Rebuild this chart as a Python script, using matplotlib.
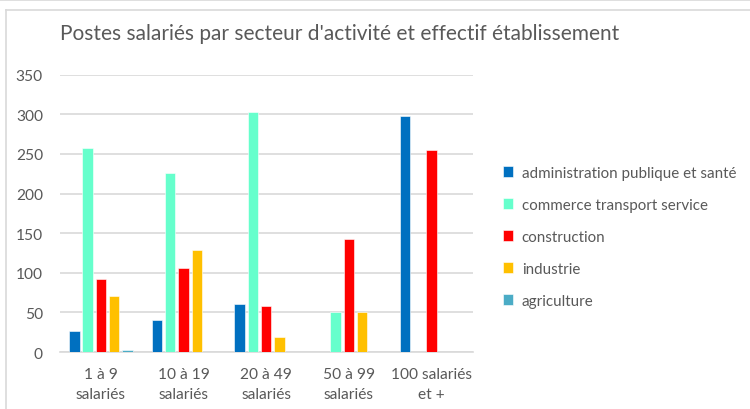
import matplotlib
matplotlib.use("Agg")
import matplotlib.pyplot as plt
from matplotlib.lines import Line2D
import numpy as np

plt.rcParams['font.family'] = ['Lato', 'DejaVu Sans']

categories = ["1 à 9\nsalariés", "10 à 19\nsalariés", "20 à 49\nsalariés",
              "50 à 99\nsalariés", "100 salariés\net +"]
series_names = ["administration publique et santé", "commerce transport service",
                "construction", "industrie", "agriculture"]
administration = [27, 40, 61, 0, 298]
commerce = [258, 226, 303, 50, 0]
construction = [92, 106, 58, 142, 255]
industrie = [71, 129, 19, 50, 0]
agriculture = [3, 0, 0, 0, 0]
yticks = [0, 50, 100, 150, 200, 250, 300, 350]

colors = ["#0070C0", "#66FFCC", "#FF0000", "#FFC000", "#4BACC6"]
text_color = "#595959"
grid_color = "#D9D9D9"

fig = plt.figure(figsize=(7.5, 4.1), dpi=100)
ax = fig.add_axes([0.0795, 0.139, 0.551, 0.6765])

values = [administration, commerce, construction, industrie, agriculture]
x = np.arange(len(categories))
step = 0.161
for i, (vals, name, c) in enumerate(zip(values, series_names, colors)):
    ax.bar(x + (i - 2) * step, vals, width=0.125, color=c, label=name,
           edgecolor="white", linewidth=0.4, zorder=3)

ax.set_xlim(-0.5, len(categories) - 0.5)
ax.set_ylim(0, 350)
ax.set_yticks(yticks)
ax.set_xticks(x)
ax.set_xticklabels(categories, fontsize=11.2, color=text_color, linespacing=1.55)
ax.tick_params(axis='y', labelsize=11.2, labelcolor=text_color, length=0, pad=12)
ax.tick_params(axis='x', length=0, pad=11)
ax.yaxis.grid(True, color=grid_color, linewidth=1.2, zorder=0)
for s in ["top", "right", "left"]:
    ax.spines[s].set_visible(False)
ax.spines["bottom"].set_color(grid_color)
ax.spines["bottom"].set_linewidth(1.2)

fig.text(0.08, 0.918, "Postes salariés par secteur d'activité et effectif établissement",
         fontsize=15, color=text_color, ha="left", va="center")

leg = fig.legend(loc="upper left", bbox_to_anchor=(0.662, 0.607), frameon=False,
                 fontsize=10.9, handlelength=0.72, handleheight=0.72,
                 handletextpad=0.55, labelspacing=1.18, borderaxespad=0)
for t in leg.get_texts():
    t.set_color(text_color)

# frame lines around the chart area
fig.add_artist(Line2D([0, 1], [1 - 1 / 410, 1 - 1 / 410], transform=fig.transFigure,
                      color=grid_color, linewidth=1.2))
fig.add_artist(Line2D([5.5 / 750, 1], [1 - 10.5 / 410, 1 - 10.5 / 410],
                      transform=fig.transFigure, color=grid_color, linewidth=1.2))
fig.add_artist(Line2D([5.5 / 750, 5.5 / 750], [0, 1 - 10.5 / 410],
                      transform=fig.transFigure, color=grid_color, linewidth=1.2))

fig.savefig("out.png", dpi=100, facecolor="white")
